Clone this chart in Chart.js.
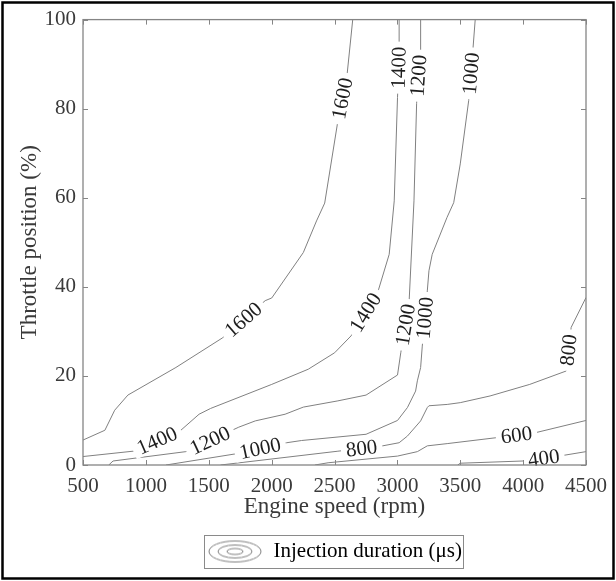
<!DOCTYPE html>
<html>
<head>
<meta charset="utf-8">
<script src="https://cdn.jsdelivr.net/npm/chart.js@4.4.1/dist/chart.umd.min.js"></script>
<style>
  html, body { margin: 0; padding: 0; background: #fff; }
  #wrap { width: 616px; height: 581px; position: relative; }
</style>
</head>
<body>
<div id="wrap"><canvas id="contourCanvas" width="616" height="581"></canvas></div>
<script>
// Contour levels (injection duration, us) and their traced paths
const levels = [1600, 1400, 1200, 1000, 800, 600, 400];

const c1600x = [500, 674, 752, 857, 1239, 1607, 1949, 2001, 2252, 2357, 2422, 2522, 2601, 2645];
const c1600y = [5.6, 7.8, 12.3, 15.7, 21.9, 28.5, 36.9, 37.5, 47.7, 54.8, 58.8, 76.4, 87.9, 100];

const c1400x = [500, 898, 1278, 1423, 1515, 2001, 2291, 2501, 2632, 2843, 2935, 2975, 3001, 3010, 3014, 3014];
const c1400y = [1.9, 3.1, 7.8, 11.4, 12.7, 18.1, 21.5, 25.2, 29, 38.7, 47.3, 59.3, 82.5, 88.5, 94.7, 100];

const c1200x = [705, 739, 1318, 1739, 1870, 2107, 2252, 2527, 2751, 3001, 3027, 3093, 3132, 3153, 3183, 3185];
const c1200y = [0, 0.9, 3.0, 8.5, 9.9, 11.4, 13.0, 14.4, 15.7, 20.2, 25.2, 36.5, 59.3, 81.2, 93.2, 100];

const c1000x = [1160, 1713, 2120, 2238, 2751, 3001, 3080, 3145, 3159, 3185, 3198, 3238, 3251, 3277, 3395, 3448, 3500, 3567, 3600, 3619];
const c1000y = [0, 2.5, 5.0, 5.5, 6.9, 10.0, 12.9, 16.6, 18.9, 21.9, 26.7, 39.1, 43.6, 47.3, 55.6, 58.9, 67.6, 81.8, 93, 100];

const c800x = [1594, 2527, 2883, 3014, 3080, 3185, 3238, 3251, 3396, 3500, 3737, 4053, 4342, 4382, 4500];
const c800y = [0, 3.1, 4.3, 5.0, 6.5, 9.9, 12.9, 13.3, 13.6, 14.0, 15.5, 18.1, 21.1, 30.9, 37.6];

const c600x = [2344, 2449, 3001, 3159, 3238, 3396, 3777, 4105, 4500];
const c600y = [0, 0.5, 2.0, 3.0, 4.3, 4.8, 6.1, 7.3, 10.0];

const c400x = [3480, 3500, 4000, 4329, 4500];
const c400y = [0, 0.4, 0.9, 2.2, 3.0];

const pathX = [c1600x, c1400x, c1200x, c1000x, c800x, c600x, c400x];
const pathY = [c1600y, c1400y, c1200y, c1000y, c800y, c600y, c400y];

// Inline contour labels: level and approximate spot (data units)
const labelLevel = [1600, 1600, 1400, 1400, 1400, 1200, 1200, 1200, 1000, 1000, 1000, 800, 800, 600, 400];
const labelX = [1770, 2562, 1092, 2749, 3011, 1510, 3060, 3172, 1910, 3228, 3590, 2717, 4362, 3948, 4165];
const labelY = [32.8, 82.3, 5.3, 34.2, 89.2, 5.5, 31.5, 87.4, 3.6, 33, 87.9, 3.4, 25.8, 6.5, 1.4];

// Axis ticks
const xTicks = [500, 1000, 1500, 2000, 2500, 3000, 3500, 4000, 4500];
const yTicks = [0, 20, 40, 60, 80, 100];

const SERIF = '"Liberation Serif", "DejaVu Serif", serif';
const lineGray = '#808080';
const axisGray = '#858585';
const textGray = '#3a3a3a';

// legend icon: concentric ellipses
function makeIcon() {
    const c = document.createElement('canvas');
    c.width = 56;
    c.height = 24;
    const g = c.getContext('2d');
    g.strokeStyle = lineGray;
    g.lineWidth = 1;
    [[26, 10.5], [17, 6.5], [8, 3]].forEach(([rx, ry]) => {
        g.beginPath();
        g.ellipse(28, 12, rx, ry, 0, 0, Math.PI * 2);
        g.stroke();
    });
    return c;
}
const legendIcon = makeIcon();

const datasets = levels.map((lv, i) => ({
    label: String(lv),
    data: pathX[i].map((x, j) => ({ x: x, y: pathY[i][j] })),
    borderColor: lineGray,
    borderWidth: 1,
    pointRadius: 0,
    showLine: true,
    tension: 0,
    fill: false
}));

// snap a point onto the polyline of a dataset, return pixel point + angle
function snapToPath(chart, dsIndex, px, py) {
    const pts = chart.getDatasetMeta(dsIndex).data;
    let best = null;
    for (let k = 0; k < pts.length - 1; k++) {
        const a = pts[k], b = pts[k + 1];
        const dx = b.x - a.x, dy = b.y - a.y;
        const len2 = dx * dx + dy * dy || 1;
        let t = ((px - a.x) * dx + (py - a.y) * dy) / len2;
        t = Math.max(0, Math.min(1, t));
        const qx = a.x + t * dx, qy = a.y + t * dy;
        const d = Math.hypot(px - qx, py - qy);
        if (!best || d < best.d) best = { d: d, x: qx, y: qy, ang: Math.atan2(dy, dx) };
    }
    let ang = best.ang;
    if (ang > Math.PI / 2 - 0.01) ang -= Math.PI;
    if (ang < -Math.PI / 2 - 0.01) ang += Math.PI;
    best.ang = ang;
    return best;
}

const contourLabels = {
    id: 'contourLabels',
    afterDatasetsDraw(chart) {
        const ctx = chart.ctx;
        const xs = chart.scales.x, ys = chart.scales.y;
        ctx.save();
        ctx.font = '21px ' + SERIF;
        ctx.textAlign = 'center';
        ctx.textBaseline = 'middle';
        labelLevel.forEach((lv, i) => {
            const ds = levels.indexOf(lv);
            const p = snapToPath(chart, ds, xs.getPixelForValue(labelX[i]), ys.getPixelForValue(labelY[i]));
            const txt = String(lv);
            const w = ctx.measureText(txt).width;
            ctx.save();
            ctx.translate(p.x, p.y);
            ctx.rotate(p.ang);
            ctx.fillStyle = '#fff';
            ctx.fillRect(-w / 2 - 5, -9, w + 10, 18);
            ctx.fillStyle = '#1e1e1e';
            ctx.fillText(txt, 0, 1);
            ctx.restore();
        });
        ctx.restore();
    },
    afterDraw(chart) {
        const ctx = chart.ctx;
        const a = chart.chartArea;
        const xs = chart.scales.x, ys = chart.scales.y;
        ctx.save();
        // axes box
        ctx.strokeStyle = axisGray;
        ctx.lineWidth = 1.3;
        ctx.strokeRect(a.left, a.top, a.right - a.left, a.bottom - a.top);
        // inward ticks on all four sides
        ctx.lineWidth = 1;
        ctx.beginPath();
        xTicks.forEach(v => {
            const x = Math.round(xs.getPixelForValue(v)) + 0.5;
            ctx.moveTo(x, a.bottom); ctx.lineTo(x, a.bottom - 5);
            ctx.moveTo(x, a.top); ctx.lineTo(x, a.top + 5);
        });
        yTicks.forEach(v => {
            const y = Math.round(ys.getPixelForValue(v)) + 0.5;
            ctx.moveTo(a.left, y); ctx.lineTo(a.left + 5, y);
            ctx.moveTo(a.right, y); ctx.lineTo(a.right - 5, y);
        });
        ctx.stroke();
        // legend frame
        const hb = chart.legend.legendHitBoxes[0];
        if (hb) {
            ctx.strokeStyle = '#8a8a8a';
            ctx.lineWidth = 1;
            ctx.strokeRect(Math.round(hb.left - 3) + 0.5, Math.round(hb.top - 6) + 0.5, Math.round(hb.width + 4), Math.round(hb.height + 12));
        }
        // figure frame
        ctx.strokeStyle = '#000';
        ctx.lineWidth = 2.5;
        ctx.strokeRect(2.5, 2.5, 611, 576);
        ctx.restore();
    }
};

const ctx = document.getElementById('contourCanvas').getContext('2d');
const contourChart = new Chart(ctx, {
    type: 'scatter',
    data: { datasets: datasets },
    plugins: [contourLabels],
    options: {
        responsive: false,
        animation: false,
        events: [],
        layout: { padding: { top: 19, right: 26, left: 12, bottom: 9 } },
        plugins: {
            tooltip: { enabled: false },
            legend: {
                position: 'bottom',
                fullSize: false,
                labels: {
                    usePointStyle: true,
                    pointStyleWidth: 56,
                    boxHeight: 20,
                    padding: 8,
                    color: '#1e1e1e',
                    font: { family: SERIF, size: 21 },
                    generateLabels: () => [{
                        text: 'Injection duration (\u03bcs)',
                        pointStyle: legendIcon,
                        fillStyle: 'rgba(0,0,0,0)',
                        strokeStyle: 'rgba(0,0,0,0)',
                        lineWidth: 0,
                        hidden: false,
                        datasetIndex: 0
                    }]
                }
            }
        },
        scales: {
            x: {
                type: 'linear',
                min: 500,
                max: 4500,
                afterFit: s => { s.height = 68; },
                afterBuildTicks: s => { s.ticks = xTicks.map(v => ({ value: v })); },
                grid: { display: false, drawTicks: false },
                border: { display: false },
                ticks: {
                    padding: 9, color: textGray, maxRotation: 0,
                    font: { family: SERIF, size: 21 },
                    callback: v => String(v)
                },
                title: {
                    display: true,
                    text: 'Engine speed (rpm)',
                    color: textGray,
                    font: { family: SERIF, size: 23 },
                    padding: { top: 0, bottom: 12 }
                }
            },
            y: {
                type: 'linear',
                min: 0,
                max: 100,
                afterFit: s => { s.width = 71; },
                afterBuildTicks: s => { s.ticks = yTicks.map(v => ({ value: v })); },
                grid: { display: false, drawTicks: false },
                border: { display: false },
                ticks: {
                    padding: 7, color: textGray,
                    font: { family: SERIF, size: 21 },
                    callback: v => String(v)
                },
                title: {
                    display: true,
                    text: 'Throttle position (%)',
                    color: textGray,
                    font: { family: SERIF, size: 23 },
                    padding: { top: 4, bottom: 0 }
                }
            }
        }
    }
});
</script>
</body>
</html>
